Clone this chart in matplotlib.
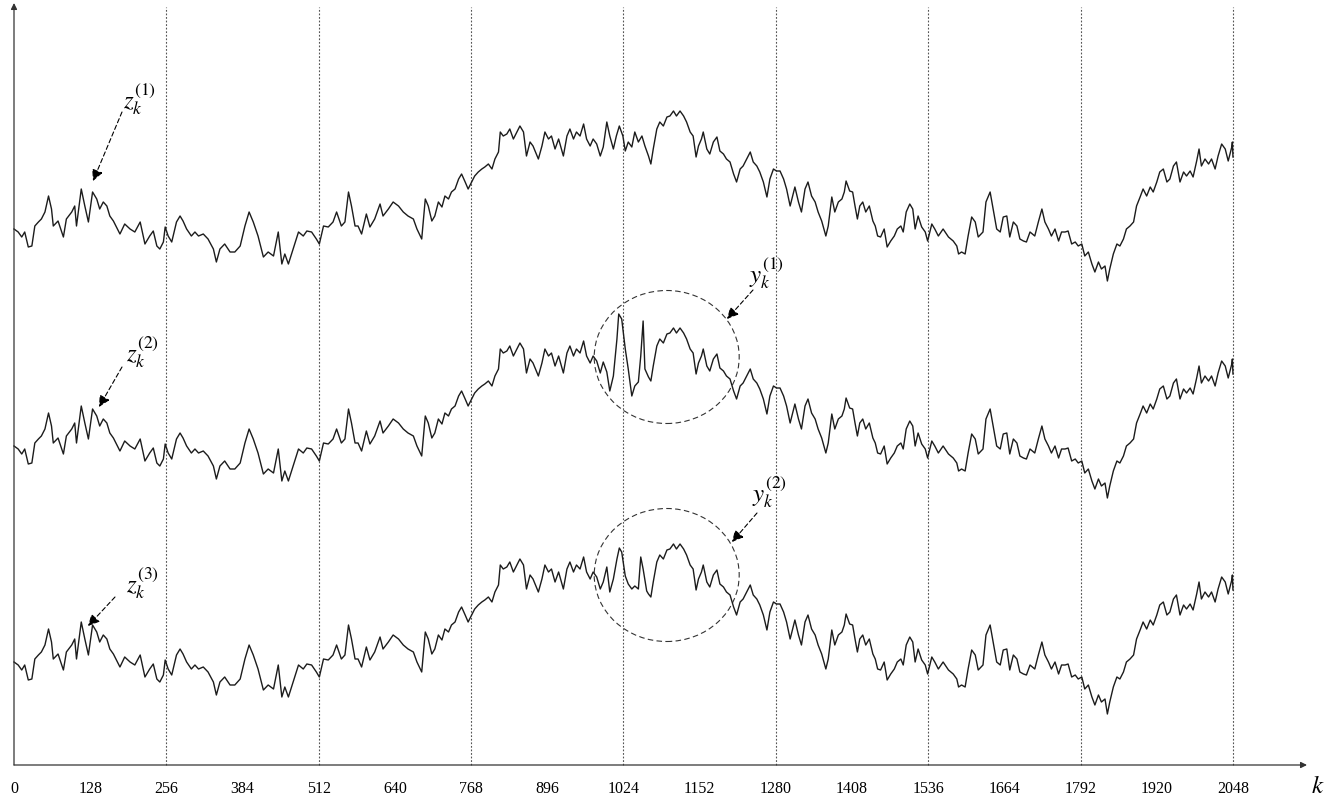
import matplotlib
matplotlib.use("Agg")
import matplotlib.pyplot as plt
from matplotlib.patches import Ellipse

plt.rcParams['font.family'] = 'Liberation Serif'
plt.rcParams['mathtext.fontset'] = 'stix'

# sample index k and value of the first trace z_k^(1)
k1 = [0, 7, 13, 18, 24, 30, 35, 41, 46, 52, 58, 63, 66, 74, 83, 88, 97, 102, 105, 113,
      119, 125, 132, 139, 144, 150, 156, 161, 167, 172, 178, 186, 195, 203, 212, 220, 228,
      234, 240, 245, 251, 254, 259, 265, 273, 279, 284, 290, 298, 304, 310, 318, 326, 335,
      340, 346, 354, 363, 371, 380, 388, 395, 402, 410, 419, 427, 436, 444, 450, 455, 461,
      469, 478, 486, 492, 500, 508, 513, 520, 528, 536, 542, 550, 556, 562, 567, 573, 578,
      584, 592, 598, 606, 615, 620, 629, 637, 646, 654, 662,
      671, 677, 685, 691, 696, 702, 707, 713, 719, 724, 730, 735, 741, 747, 752, 758, 763,
      769, 774, 780, 786, 791, 797, 803, 808, 814, 817, 822, 828, 833, 839, 845, 850, 856,
      861, 867, 872, 881, 887, 892, 898, 903, 909, 915, 923, 929, 934, 940, 945, 951, 957,
      962, 968, 973, 979, 985, 990, 996, 1001, 1007, 1012, 1017, 1023, 1027, 1032, 1038,
      1043, 1049, 1055, 1060, 1066, 1070, 1074, 1080, 1085, 1091, 1097, 1102, 1108, 1113,
      1119, 1125, 1130, 1136, 1141, 1146, 1150, 1155, 1158, 1164, 1169, 1175, 1181, 1186,
      1192, 1197, 1203, 1209, 1214, 1220, 1225, 1231, 1237, 1242, 1248, 1253, 1259, 1265,
      1270, 1276, 1281, 1287, 1293, 1298, 1304, 1312, 1318, 1323, 1329, 1334, 1340, 1346,
      1351, 1357, 1364, 1368, 1374, 1379, 1385, 1391, 1395, 1398, 1404, 1409, 1413, 1417,
      1421, 1426, 1431, 1437, 1443, 1447, 1451, 1456, 1462, 1467, 1473, 1479, 1484, 1490,
      1494, 1499, 1505, 1510, 1514, 1519, 1525, 1531, 1535, 1542, 1547, 1553, 1561, 1570,
      1578, 1584, 1587, 1592, 1598, 1603, 1609, 1615, 1620, 1628, 1633, 1640, 1645, 1651,
      1657, 1662, 1668, 1673, 1679, 1685, 1690, 1696, 1701, 1707, 1715, 1721, 1727, 1732,
      1738, 1743, 1749, 1755, 1760, 1766, 1771, 1777, 1783, 1788, 1794, 1799, 1805, 1811,
      1816, 1822, 1827, 1833, 1837, 1841, 1847, 1853, 1858, 1864, 1869, 1875, 1881, 1886,
      1892, 1897, 1903, 1909, 1914, 1920, 1925, 1931, 1937, 1942, 1948, 1953, 1959, 1965,
      1970, 1976, 1981, 1987, 1991, 1995, 2001, 2007, 2012, 2018, 2023, 2029, 2035, 2040,
      2046, 2047, 2048]
z1 = [0, -3, -8, -3, -18, -17, 3, 7, 10, 17, 33, 20, 3, 8, -8, 10, 17, 23, 3, 40,
      23, 7, 37, 30, 20, 27, 23, 13, 8, 2, -5, 5, 0, -3, 7, -15, -7,
      -2, -17, -20, -13, 2, -7, -13, 7, 13, 8, 0, -7, -3, -7, -5, -10, -20,
      -33, -20, -15, -23, -23, -17, 3, 17, 7, -7, -28, -23, -27, -3, -35, -25, -35,
      -20, -3, -7, -2, -3, -10, -15, 3, 2, 7, 17, 3, 7, 37, 23, 3, 3,
      -5, 15, 2, 10, 25, 13, 20, 27, 23, 17, 13,
      10, 0, -10, 30, 23, 8, 13, 27, 22, 33, 30, 37, 40, 50, 55, 47, 40,
      47, 53, 57, 60, 62, 65, 60, 70, 77, 97, 93, 95, 100, 90, 97, 103, 97,
      73, 87, 83, 70, 83, 97, 90, 93, 80, 90, 73, 93, 100, 90, 97, 93, 105,
      90, 83, 90, 85, 73, 82, 107, 93, 80, 93, 103, 93, 78, 87, 82,
      97, 87, 93, 83, 73, 65, 80, 100, 107, 103, 112, 113, 118, 113,
      118, 113, 107, 97, 93, 72, 83, 90, 97, 80, 75, 87, 92, 78,
      75, 70, 67, 55, 47, 60, 63, 70, 77, 67, 63, 57, 47, 32,
      50, 60, 58, 58, 50, 40, 23, 42, 27, 17, 40, 47, 33, 27,
      17, 8, -7, 3, 32, 17, 27, 30, 37, 48, 38, 37, 23, 10,
      23, 27, 17, 23, 8, 3, -7, -8, 0, -18, -12, -7, 0, 3,
      -3, 17, 25, 20, 0, 13, 2, -3, -12, 5, 0, -7, 0, -8,
      -12, -17, -25, -23, -25, -7, 12, 7, -8, -3, 27, 37, 20, 0,
      -3, 12, 13, -8, 7, 3, -10, -12, -13, -3, -7, 7, 20, 7,
      0, -7, 0, -12, -3, -3, -2, -15, -13, -17, -15, -27, -23, -35,
      -43, -33, -40, -37, -52, -40, -25, -15, -17, -10, 0, 3, 7, 23,
      32, 40, 33, 42, 37, 47, 57, 60, 47, 50, 63, 67, 47, 57,
      53, 58, 52, 68, 80, 63, 70, 65, 70, 60, 73, 85, 80, 68,
      82, 87, 72]

# circled segments where the second and third traces differ (y_k^(1), y_k^(2))
y1_k = [990, 996, 1001, 1007, 1013, 1016, 1021, 1027, 1032, 1038, 1043, 1049, 1053, 1057, 1060, 1066]
y1_v = [84, 74, 55, 70, 107, 132, 127, 97, 77, 50, 60, 64, 90, 125, 77, 69]
y2_k = [990, 996, 1001, 1007, 1013, 1017, 1021, 1027, 1032, 1038, 1043, 1049, 1053, 1057, 1063, 1066]
y2_v = [80, 95, 70, 83, 103, 114, 110, 86, 78, 73, 76, 73, 105, 93, 71, 68]

offsets = [0, -217, -433]
tick_vals = list(range(0, 2049, 128))
grid_vals = list(range(256, 2049, 256))


def merge(seg_k, seg_v):
    lo, hi = seg_k[0], seg_k[-1]
    pts = [(a, b) for a, b in zip(k1, z1) if a < lo or a > hi] + list(zip(seg_k, seg_v))
    pts.sort()
    return [p[0] for p in pts], [p[1] for p in pts]


k2, z2 = merge(y1_k, y1_v)
k3, z3 = merge(y2_k, y2_v)

SX = 0.5952  # pixels per sample


def P(x, y):
    # reference pixel position -> data coords
    return ((x - 14) / SX, 230 - y)


fig = plt.figure(figsize=(13.37, 8.03), dpi=100)
ax = fig.add_axes([0, 0, 1, 1])
ax.set_xlim(-14 / SX, (1337 - 14) / SX)
ax.set_ylim(230 - 803, 230)
ax.axis('off')

# dotted verticals
for g in grid_vals:
    ax.plot([g, g], [P(0, 766)[1], P(0, 8)[1]], color='#555555', lw=0.8, ls=(0, (1.6, 1.6)))

# traces
for kk, zz, off in [(k1, z1, offsets[0]), (k2, z2, offsets[1]), (k3, z3, offsets[2])]:
    ax.plot(kk, [v + off for v in zz], color='#1c1c1c', lw=1.0)

# axes with arrows
ax.annotate('', xy=P(14, 4), xytext=P(14, 766),
            arrowprops=dict(arrowstyle='-|>', color='#333333', lw=0.9, mutation_scale=9,
                            shrinkA=0, shrinkB=0))
ax.annotate('', xy=P(1307, 766), xytext=P(14, 766),
            arrowprops=dict(arrowstyle='-|>', color='#333333', lw=0.9, mutation_scale=9,
                            shrinkA=0, shrinkB=0))

for t in tick_vals:
    ax.text(t, P(0, 789)[1], str(t), ha='center', va='center', fontsize=11.5)
ax.text(*P(1318, 787), r'$k$', ha='center', va='center', fontsize=18)

# labels with dashed arrows
dash = dict(arrowstyle='-|>', color='black', lw=0.8, ls=(0, (4, 2.5)), mutation_scale=17,
            shrinkA=0, shrinkB=0)
labels = [(r'$z_k^{(1)}$', (139, 99), (122, 113), (93, 182)),
          (r'$z_k^{(2)}$', (142, 352), (122, 368), (99, 408)),
          (r'$z_k^{(3)}$', (142, 583), (115, 598), (88, 627)),
          (r'$y_k^{(1)}$', (766, 273), (753, 291), (727, 320)),
          (r'$y_k^{(2)}$', (769, 492), (757, 514), (732, 543))]
for txt, pos, start, tip in labels:
    ax.text(*P(*pos), txt, ha='center', va='center', fontsize=18)
    ax.annotate('', xy=P(*tip), xytext=P(*start), arrowprops=dash)

for cy in (358, 576):
    ax.add_patch(Ellipse(P(666.7, cy), width=145 / SX, height=133, fill=False,
                         edgecolor='#333333', lw=0.8, ls=(0, (5, 3))))

fig.savefig('out.png', dpi=100)
